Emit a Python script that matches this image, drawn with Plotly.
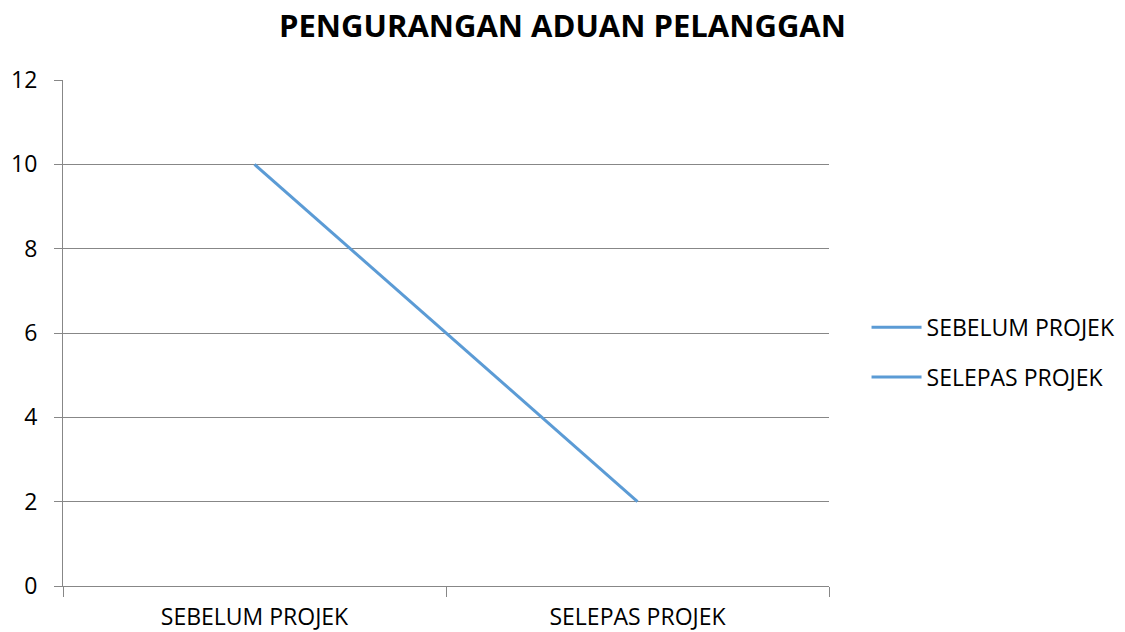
import plotly.graph_objects as go

title = "PENGURANGAN ADUAN PELANGGAN"
categories = ["SEBELUM PROJEK", "SELEPAS PROJEK"]
aduan = [10, 2]
legend_names = ["SEBELUM PROJEK", "SELEPAS PROJEK"]
y_ticks = [0, 2, 4, 6, 8, 10, 12]

line_color = "#5B9BD5"
grid_color = "#878787"
font_family = "'Open Sans', sans-serif"

fig = go.Figure()
fig.add_trace(go.Scatter(
    x=categories, y=aduan, mode="lines", name=legend_names[0],
    line=dict(color=line_color, width=3), legendgroup="a",
))
fig.add_trace(go.Scatter(
    x=categories, y=[None for _ in categories], mode="lines", name=legend_names[1],
    line=dict(color=line_color, width=3), legendgroup="b", showlegend=True,
))

fig.update_layout(
    width=1125, height=632,
    margin=dict(l=63, r=296, t=80, b=46, autoexpand=False),
    paper_bgcolor="white", plot_bgcolor="white",
    font=dict(family=font_family, size=23, color="#000000"),
    title=dict(text=f"<b>{title}</b>", x=0.5, xanchor="center", y=0.958, yanchor="middle",
               font=dict(size=31, family=font_family, color="#000000")),
    legend=dict(x=1.049, xanchor="left", y=0.462, yanchor="middle",
                font=dict(size=23), tracegroupgap=17, traceorder="grouped",
                itemwidth=50, bgcolor="rgba(0,0,0,0)"),
    showlegend=True,
)
fig.update_xaxes(
    type="category", range=[-0.5, 1.5], tickson="boundaries", automargin=False,
    showgrid=False, showline=True, linecolor=grid_color, linewidth=1,
    ticks="outside", ticklen=10, tickcolor=grid_color, tickfont=dict(size=23),
    ticklabelstandoff=10, zeroline=False,
)
fig.update_yaxes(
    range=[0, 12], tickvals=y_ticks, automargin=False,
    showgrid=True, gridcolor=grid_color, gridwidth=1,
    showline=True, linecolor=grid_color, linewidth=1,
    ticks="outside", ticklen=8, tickcolor=grid_color, tickfont=dict(size=23),
    ticklabelstandoff=12, zeroline=False,
)

# remove the default page margin so the 1125x632 figure fills the window exactly
fig.write_html(
    "out.html",
    config={"displayModeBar": False},
    post_script="document.body.style.margin='0';document.body.style.overflow='hidden';",
)
